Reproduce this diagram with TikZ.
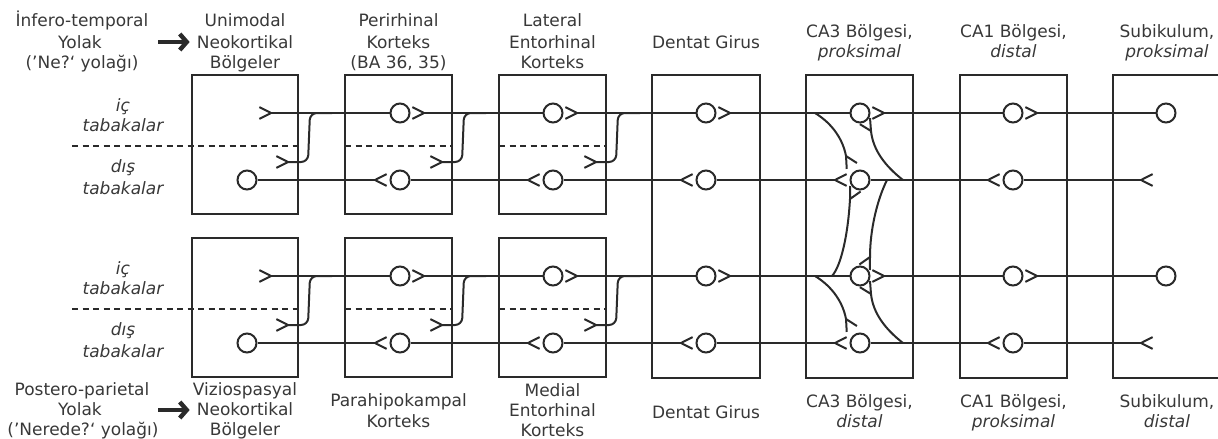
\documentclass[tikz,border=0pt]{standalone}
\usepackage{fontspec}
\setmainfont{DejaVu Sans}[ItalicFont={DejaVu Sans Oblique},BoldFont={DejaVu Sans Bold}]
\usetikzlibrary{calc,arrows.meta}
\definecolor{ink}{HTML}{2A2A2A}
\definecolor{txt}{HTML}{383838}
\newcommand\synapse[2]{\draw[wire] ($(#1)!13pt!27:(#2)$) -- (#1) -- ($(#1)!13pt!-27:(#2)$);}
\begin{document}
\begin{tikzpicture}[x=1pt,y=-1pt,
  box/.style={draw=ink,line width=2.1pt},
  wire/.style={draw=ink,line width=2pt,line join=round},
  neuron/.style={circle,draw=ink,line width=2pt,minimum size=19pt,inner sep=0pt},
  lbl/.style={text=txt,font=\fontsize{17}{20}\selectfont,anchor=base,inner sep=0pt},
  ilbl/.style={lbl,font=\fontsize{17}{20}\selectfont\itshape},
  dsh/.style={draw=ink,line width=1.7pt,dash pattern=on 6pt off 4.5pt},
  bigarrow/.style={draw=ink,line width=4.4pt,-{Straight Barb[length=7pt,width=16pt]}}
]
\useasboundingbox (0,0) rectangle (1218,439);
\clip (0,0) rectangle (1218,439);

% tall boxes
\draw[box] (652,75) rectangle (760,378);
\draw[box] (806,75) rectangle (913,378);
\draw[box] (960,75) rectangle (1067,378);
\draw[box] (1113,75) rectangle (1221,378);

\foreach \h/\dy in {0/0,1/163}{
\begin{scope}[shift={(0,\dy)}]
  % short boxes
  \draw[box] (192,75) rectangle (298,214);
  \draw[box] (345,75) rectangle (452,214);
  \draw[box] (499,75) rectangle (606,214);
  % dashed layer borders
  \draw[dsh] (72,146) -- (298,146);
  \draw[dsh] (345,146) -- (452,146);
  \draw[dsh] (499,146) -- (606,146);
  % neurons
  \node[neuron] (b1-\h) at (247,180) {};
  \foreach \k/\x in {2/400,3/553,4/706,5/860,6/1013,7/1166}
    \node[neuron] (t\k-\h) at (\x,113) {};
  \foreach \k/\x in {2/400,3/553,4/706,5/860,6/1013}
    \node[neuron] (b\k-\h) at (\x,180) {};
  % forward pathway (inner layers)
  \foreach \k/\x/\n in {1/247/2,2/400/3,3/553/4,4/706/5,5/860/6,6/1013/7}{
    \coordinate (tp\k-\h) at (\x+24,113);
    \synapse{tp\k-\h}{\x,113}
    \draw[wire] (tp\k-\h) -- (t\n-\h);
  }
  % backward pathway (outer layers)
  \foreach \k/\x/\p in {2/400/1,3/553/2,4/706/3,5/860/4,6/1013/5,7/1166/6}{
    \coordinate (bp\k-\h) at (\x-25,180);
    \synapse{bp\k-\h}{\x,180}
    \draw[wire] (b\p-\h) -- (bp\k-\h);
  }
  % outer-layer to inner-layer links
  \foreach \k/\xr in {1/298,2/452,3/606}{
    \coordinate (sp\k-\h) at (\xr-10,162);
    \synapse{sp\k-\h}{\xr-40,162}
    \draw[wire,rounded corners=7pt] (sp\k-\h) -- (\xr+10,162) -- (\xr+12,113) -- (\xr+34,113);
  }
  % CA3 internal connections
  \coordinate (sA-\h) at (846,156);
  \draw[wire] (815,113) .. controls (833,124) and (843,140) .. (sA-\h);
  \synapse{sA-\h}{b5-\h}
  \coordinate (sB-\h) at (871,131);
  \draw[wire] (903,180) .. controls (885,166) and (873,150) .. (sB-\h);
  \synapse{sB-\h}{t5-\h}
\end{scope}
}
% CA3 links between the two streams
\coordinate (sC) at (850,199);
\draw[wire] (832,276) .. controls (841,266) and (848,235) .. (sC);
\synapse{sC}{b5-0}
\coordinate (sD) at (870,257);
\draw[wire] (887,180) .. controls (877,200) and (870,230) .. (sD);
\synapse{sD}{t5-1}

% side labels
\foreach \h/\dy in {0/0,1/163}{
  \node[ilbl] (ic-\h) at (123,111+\dy) {iç};
  \node[ilbl] (ict-\h) at (123,131+\dy) {tabakalar};
  \node[ilbl] (dis-\h) at (123,172+\dy) {dış};
  \node[ilbl] (dist-\h) at (123,194+\dy) {tabakalar};
}

% top titles
\node[lbl] (itA) at (82,27) {İnfero-temporal};
\node[lbl] (itB) at (80,48) {Yolak};
\node[lbl] (itC) at (82,68) {(’Ne?‘ yolağı)};
\node[lbl] (u1) at (245,27) {Unimodal};
\node[lbl] (u2) at (245,48) {Neokortikal};
\node[lbl] (u3) at (245,68) {Bölgeler};
\node[lbl] (p1) at (398.5,27) {Perirhinal};
\node[lbl] (p2) at (398.5,48) {Korteks};
\node[lbl] (p3) at (398.5,68) {(BA 36, 35)};
\node[lbl] (l1) at (552.5,27) {Lateral};
\node[lbl] (l2) at (552.5,48) {Entorhinal};
\node[lbl] (l3) at (552.5,68) {Korteks};
\node[lbl] (dg1) at (706,48) {Dentat Girus};
\node[lbl] (c3a) at (859.5,37) {CA3 Bölgesi,};
\node[ilbl] (c3b) at (859.5,57.5) {proksimal};
\node[lbl] (c1a) at (1013.5,37) {CA1 Bölgesi,};
\node[ilbl] (c1b) at (1013.5,57.5) {distal};
\node[lbl] (sba) at (1167,37) {Subikulum,};
\node[ilbl] (sbb) at (1167,57.5) {proksimal};

% bottom titles
\node[lbl] (ppA) at (82,395) {Postero-parietal};
\node[lbl] (ppB) at (80,415) {Yolak};
\node[lbl] (ppC) at (83,435) {(’Nerede?‘ yolağı)};
\node[lbl] (v1) at (245,395) {Viziospasyal};
\node[lbl] (v2) at (245,415) {Neokortikal};
\node[lbl] (v3) at (245,435) {Bölgeler};
\node[lbl] (ph1) at (398.5,406) {Parahipokampal};
\node[lbl] (ph2) at (398.5,427) {Korteks};
\node[lbl] (me1) at (552.5,396) {Medial};
\node[lbl] (me2) at (552.5,416) {Entorhinal};
\node[lbl] (me3) at (552.5,436) {Korteks};
\node[lbl] (dg2) at (706,418) {Dentat Girus};
\node[lbl] (c3c) at (859.5,407) {CA3 Bölgesi,};
\node[ilbl] (c3d) at (859.5,427) {distal};
\node[lbl] (c1c) at (1013.5,407) {CA1 Bölgesi,};
\node[ilbl] (c1d) at (1013.5,427) {proksimal};
\node[lbl] (sbc) at (1167,407) {Subikulum,};
\node[ilbl] (sbd) at (1167,427) {distal};

% pathway arrows
\coordinate (arrT) at (158,42);
\draw[bigarrow] (arrT) -- ([xshift=-7pt]arrT -| u2.west);
\coordinate (arrB) at (158,410);
\draw[bigarrow] (arrB) -- ([xshift=-7pt]arrB -| v2.west);
\end{tikzpicture}
\end{document}
